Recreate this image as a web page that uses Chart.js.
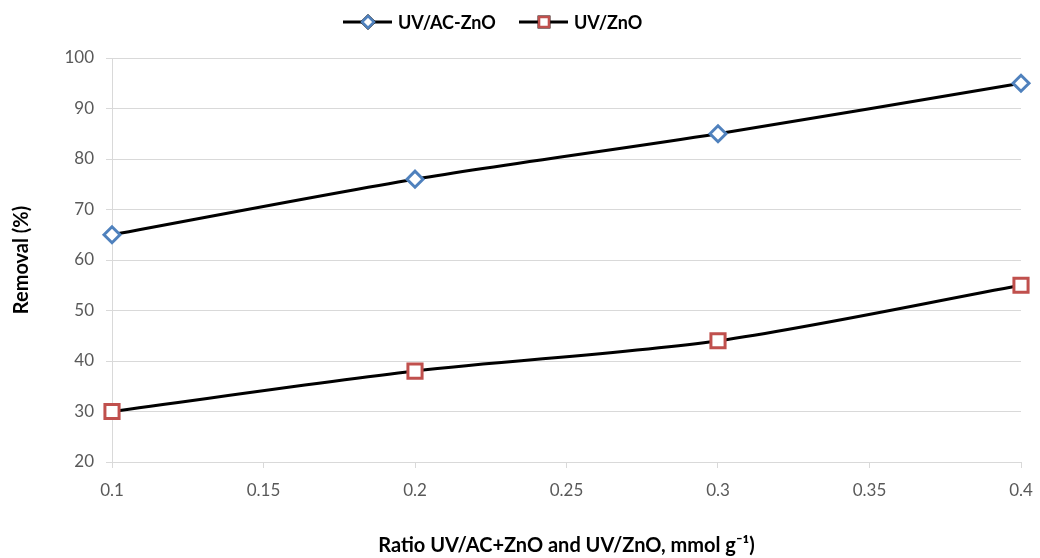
<!DOCTYPE html>
<html>
<head>
<meta charset="utf-8">
<script src="https://cdn.jsdelivr.net/npm/chart.js@4/dist/chart.umd.min.js"></script>
<style>
  html, body { margin: 0; padding: 0; background: #fff; }
  #wrap { width: 1040px; height: 558px; }
</style>
</head>
<body>
<div id="wrap"><canvas id="chart" width="1040" height="558"></canvas></div>
<script>
// data
const ratios = [0.1, 0.2, 0.3, 0.4];
const acZnO = [65, 76, 85, 95];
const znO = [30, 38, 44, 55];
const xTicks = [0.1, 0.15, 0.2, 0.25, 0.3, 0.35, 0.4];
const yTicks = [20, 30, 40, 50, 60, 70, 80, 90, 100];
const seriesNames = ['UV/AC-ZnO', 'UV/ZnO'];

const FONT = 'Lato, "Open Sans", sans-serif';
const BLUE = '#4f81bd';
const RED = '#c0504d';

function toPoints(xs, ys) {
    return xs.map((x, i) => ({ x: x, y: ys[i] }));
}

// legend: line with marker in the middle, like the original
const legendPlugin = {
    id: 'lineLegend',
    afterDraw(chart) {
        const ctx = chart.ctx;
        const items = [
            { x: 343, ds: chart.data.datasets[0] },
            { x: 519, ds: chart.data.datasets[1] }
        ];
        const y = 22;
        ctx.save();
        items.forEach(it => {
            ctx.strokeStyle = '#000';
            ctx.lineWidth = 3;
            ctx.beginPath();
            ctx.moveTo(it.x, y);
            ctx.lineTo(it.x + 49, y);
            ctx.stroke();
            Chart.helpers.drawPoint(ctx, {
                pointStyle: it.ds.pointStyle,
                radius: it.ds.pointStyle === 'rect' ? 7 : 6,
                borderWidth: 2.5
            }, it.x + 25, y);
            ctx.fillStyle = '#fff';
            ctx.strokeStyle = it.ds.borderColor;
            ctx.lineWidth = 2.5;
            ctx.fill();
            ctx.stroke();
            ctx.fillStyle = '#000';
            ctx.font = 'bold 18px ' + FONT;
            ctx.textBaseline = 'middle';
            ctx.fillText(it.ds.label, it.x + 55, y + 1);
        });
        ctx.restore();
    }
};

new Chart(document.getElementById('chart').getContext('2d'), {
    type: 'line',
    data: {
        datasets: [
            {
                label: seriesNames[0],
                data: toPoints(ratios, acZnO),
                borderColor: BLUE,
                pointStyle: 'rectRot',
                pointRadius: 8,
                pointBorderWidth: 3,
                pointBackgroundColor: '#fff',
                pointBorderColor: BLUE,
                tension: 0.3,
                clip: false
            },
            {
                label: seriesNames[1],
                data: toPoints(ratios, znO),
                borderColor: RED,
                pointStyle: 'rect',
                pointRadius: 10,
                pointBorderWidth: 3,
                pointBackgroundColor: '#fff',
                pointBorderColor: RED,
                tension: 0.3,
                clip: false
            }
        ]
    },
    options: {
        responsive: false,
        animation: false,
        layout: { padding: { top: 58, right: 19, left: 0, bottom: 0 } },
        datasets: {
            line: { borderWidth: 3, segment: { borderColor: '#000' } }
        },
        plugins: {
            legend: { display: false },
            tooltip: { enabled: false }
        },
        scales: {
            x: {
                type: 'linear',
                min: 0.1,
                max: 0.4,
                afterBuildTicks: s => { s.ticks = xTicks.map(v => ({ value: v })); },
                afterFit: s => { s.height = 96; s.paddingRight = 0; s.paddingLeft = 0; },
                ticks: {
                    callback: v => String(v),
                    color: '#595959',
                    font: { family: FONT, size: 17 },
                    padding: 12,
                    maxRotation: 0
                },
                grid: { drawOnChartArea: false, color: '#d9d9d9', tickLength: 6 },
                border: { color: '#d9d9d9' },
                title: {
                    display: true,
                    text: 'Ratio UV/AC+ZnO and UV/ZnO, mmol g\u207B\u00B9)',
                    color: '#000',
                    font: { family: FONT, size: 20, weight: 'bold' },
                    padding: { bottom: 0 }
                }
            },
            y: {
                min: 20,
                max: 100,
                afterBuildTicks: s => { s.ticks = yTicks.map(v => ({ value: v })); },
                afterFit: s => { s.width = 112; },
                ticks: {
                    color: '#595959',
                    font: { family: FONT, size: 17 },
                    padding: 12
                },
                grid: { color: '#d9d9d9', tickLength: 6 },
                border: { color: '#d9d9d9' },
                title: {
                    display: true,
                    text: 'Removal (%)',
                    color: '#000',
                    font: { family: FONT, size: 20, weight: 'bold' },
                    padding: { top: 10 }
                }
            }
        }
    },
    plugins: [legendPlugin]
});
</script>
</body>
</html>
